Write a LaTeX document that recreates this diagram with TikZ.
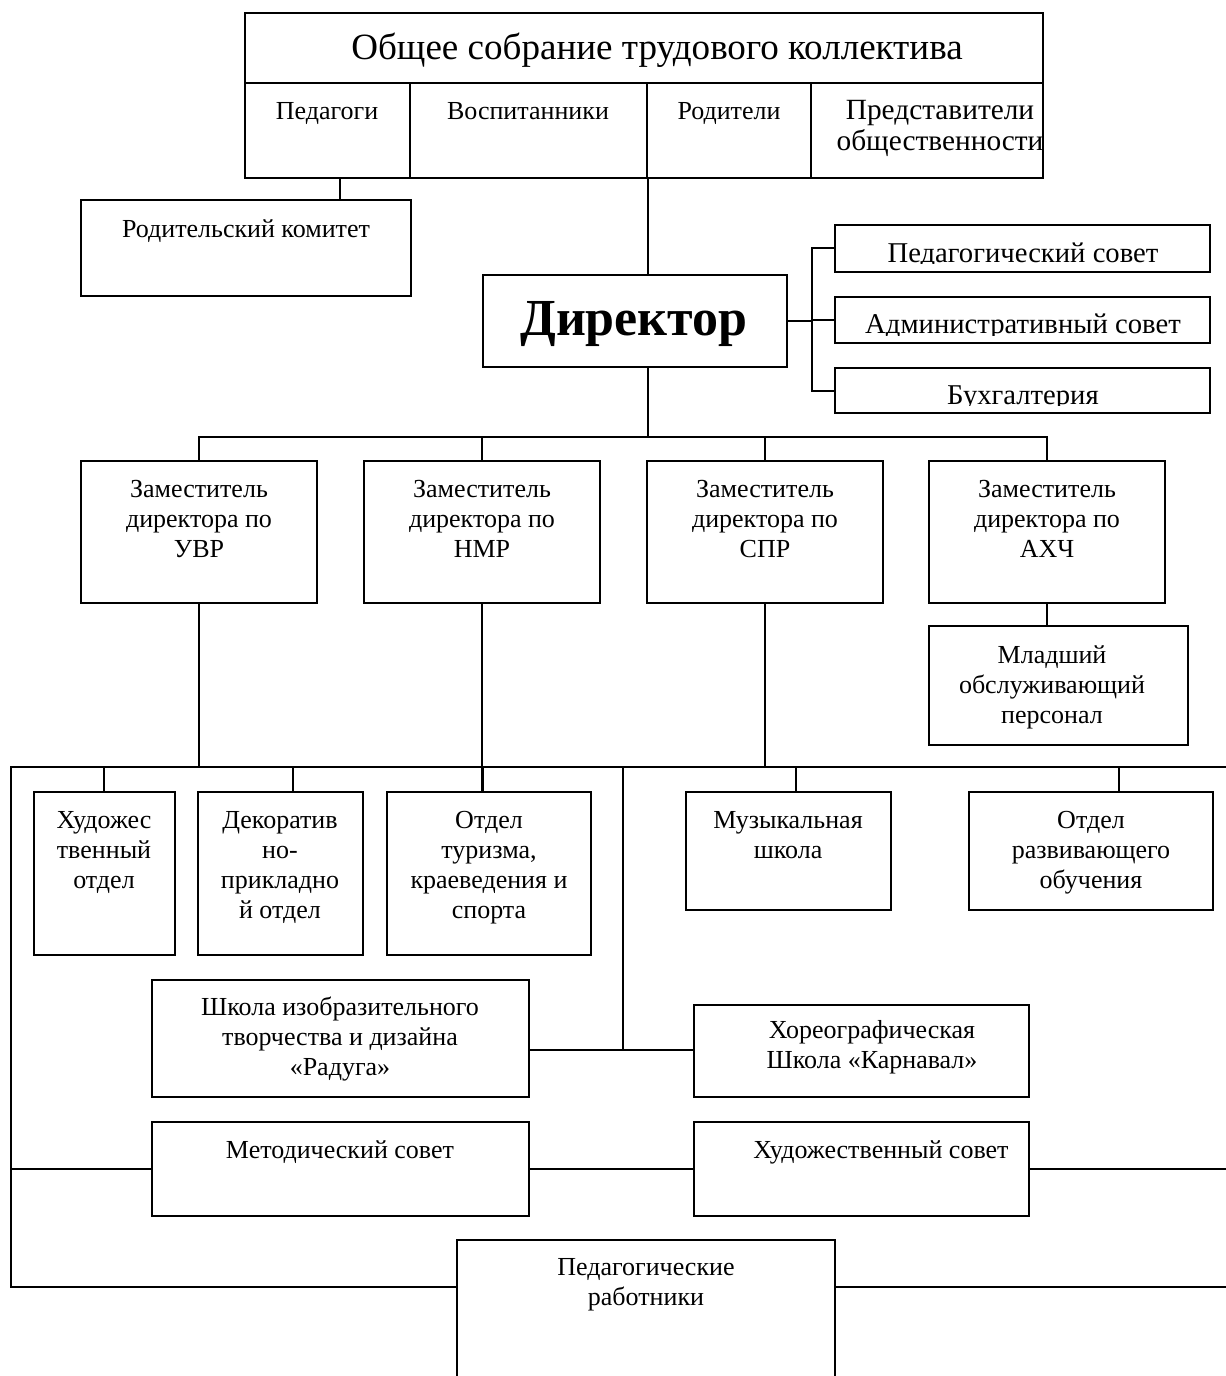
\documentclass[tikz,border=0pt]{standalone}
\usepackage{fontspec}
\setmainfont{Liberation Serif}
\usetikzlibrary{fit}

\tikzset{
  box/.style={draw, line width=1.5pt, inner sep=0pt},
  lbl/.style={align=center, inner sep=0pt, anchor=base, font=\fontsize{19.5}{22.5}\selectfont},
  link/.style={line width=1.5pt},
}

\begin{document}
\begin{tikzpicture}[x=0.75pt, y=-0.75pt]
\clip (0,0) rectangle (1226,1376);

% === General meeting ===
% (multi-line labels sit on the baseline of their last line)
\node[box, fit={(245,13) (1043,83)}] (meet) {};
\node[lbl, font=\fontsize{27.8}{30}\selectfont] at (657,60) {Общее собрание трудового коллектива};
\node[box, fit={(245,83) (410,178)}] (ped) {};
\node[box, fit={(410,83) (647,178)}] (vos) {};
\node[box, fit={(647,83) (811,178)}] (rod) {};
\node[box, fit={(811,83) (1043,178)}] (pre) {};
\node[lbl] at (327,120) {Педагоги};
\node[lbl] at (528,120) {Воспитанники};
\node[lbl] at (729,120) {Родители};
\node[lbl, font=\fontsize{22}{23.5}\selectfont] at (940,151) {Представители\\общественности};

% === Parents committee ===
\node[box, fit={(81,200) (411,296)}] (rk) {};
\node[lbl] at (246,238) {Родительский комитет};
\draw[link] (ped.south -| 340,0) -- (rk.north -| 340,0);

% === Director ===
\node[box, fit={(483,275) (787,367)}] (dir) {};
\node[lbl, font=\bfseries\fontsize{39}{42}\selectfont] at (634,335) {Директор};
\draw[link] (vos.south east) -- (vos.south east |- dir.north);

% === Councils on the right (text cut by the box) ===
\coordinate (brk) at (812,0);
\foreach \n/\ya/\yb/\txt in {ps/225/272/Педагогический совет, as/297/343/Административный совет, bh/368/413/Бухгалтерия} {
  \node[box, fit={(835,\ya) (1210,\yb)}] (\n) {};
  \begin{scope}
    \clip (835,\ya) rectangle (1210,\yb-8);
    \node[lbl, font=\fontsize{21.5}{23}\selectfont] at (1023,\yb-9) {\txt};
  \end{scope}
}
\draw[link] (dir.east) -- (dir.east -| brk);
\draw[link] (ps.west) -| (brk |- bh.west) -- (bh.west);
\draw[link] (as.west) -- (as.west -| brk);

% === Deputies ===
\foreach \n/\xa/\code in {d1/81/УВР, d2/364/НМР, d3/647/СПР, d4/929/АХЧ} {
  \node[box, fit={(\xa,461) (\xa+236,603)}] (\n) {};
  \node[lbl] at (\xa+118,557) {Заместитель\\директора по\\\code};
}
\coordinate (bus1) at (0,437);
\draw[link] (vos.south east |- dir.south) -- (vos.south east |- bus1);
\draw[link] (d1.north) -- (d1.north |- bus1) -- (d4.north |- bus1) -- (d4.north);
\foreach \n in {d2,d3}
  \draw[link] (\n.north) -- (\n.north |- bus1);

\node[box, fit={(929,626) (1188,745)}] (ms) {};
\node[lbl] at (1052,723) {Младший\\обслуживающий\\персонал};
\draw[link] (d4.south) -- (d4.south |- ms.north);

% === Departments ===
\node[box, fit={(34,792) (175,955)}] (hud) {};
\node[lbl] at (104,888) {Художес\\твенный\\отдел};
\node[box, fit={(198,792) (363,955)}] (dek) {};
\node[lbl] at (280,918) {Декоратив\\но-\\прикладно\\й отдел};
\node[box, fit={(387,792) (591,955)}] (tur) {};
\node[lbl] at (489,918) {Отдел\\туризма,\\краеведения и\\спорта};
\node[box, fit={(686,792) (891,910)}] (muz) {};
\node[lbl] at (788,858) {Музыкальная\\школа};
\node[box, fit={(969,792) (1213,910)}] (raz) {};
\node[lbl] at (1091,888) {Отдел\\развивающего\\обучения};

\coordinate (bus2) at (11,767);
\coordinate (bus2r) at (1226,767);
\draw[link] (d1.south) -- (d1.south |- bus2);
\draw[link] (d3.south) -- (d3.south |- bus2);
\draw[link] (d2.south) -- (d2.south |- tur.north);
\foreach \n/\x in {hud/104, dek/293, tur/483, muz/796, raz/1119}
  \draw[link] (bus2 -| \x,0) -- (\n.north -| \x,0);

% === Schools ===
\node[box, fit={(152,980) (529,1097)}] (shk) {};
\node[lbl] at (340,1075) {Школа изобразительного\\творчества и дизайна\\«Радуга»};
\node[box, fit={(694,1005) (1029,1097)}] (hor) {};
\node[lbl] at (872,1068) {Хореографическая\\Школа «Карнавал»};
\coordinate (mid) at (623,1050);
\draw[link] (bus2 -| mid) -- (mid);
\draw[link] (shk.east |- mid) -- (hor.west |- mid);

% === Methodical and art councils ===
\node[box, fit={(152,1122) (529,1216)}] (met) {};
\node[lbl] at (340,1158) {Методический совет};
\node[box, fit={(694,1122) (1029,1216)}] (hs) {};
\node[lbl] at (881,1158) {Художественный совет};
\draw[link] (bus2 |- met.west) -- (met.west);
\draw[link] (met.east) -- (hs.west);
\draw[link] (hs.east) -- (bus2r |- hs.east);

% === Teaching staff ===
\node[box, fit={(457,1240) (835,1400)}] (pr) {};
\node[lbl] at (646,1305) {Педагогические\\работники};
\coordinate (bot) at (11,1287);
\coordinate (botr) at (1226,1287);
\draw[link] (bus2r) -- (bus2) -- (bot) -- (bot -| pr.west);
\draw[link] (pr.east |- botr) -- (botr);

\end{tikzpicture}
\end{document}
